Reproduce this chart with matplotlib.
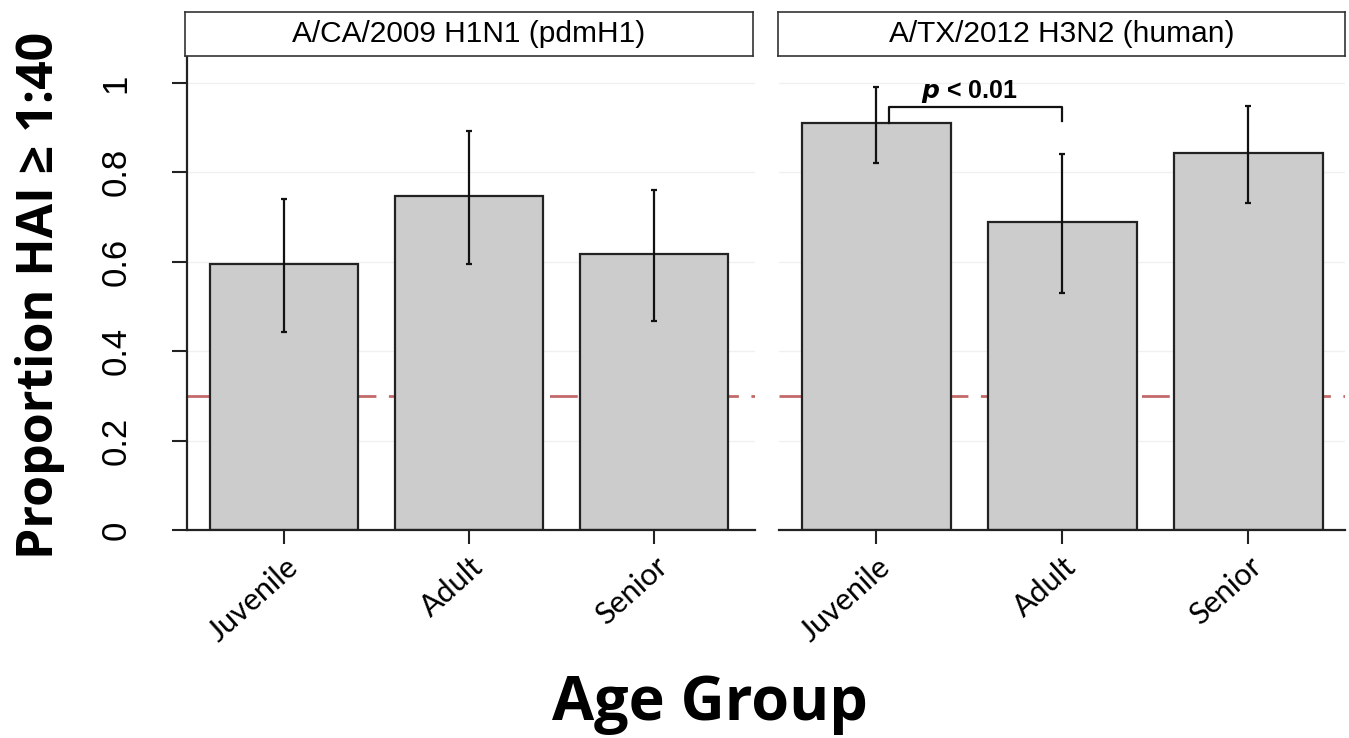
import matplotlib
matplotlib.use("Agg")
import matplotlib.pyplot as plt
import matplotlib.transforms as mtransforms
import numpy as np

# HAI >= 1:40 proportions by age group, two virus strains
groups = ['Juvenile', 'Adult', 'Senior']
panels = ['A/CA/2009 H1N1 (pdmH1)', 'A/TX/2012 H3N2 (human)']
prop_h1n1 = [0.595, 0.748, 0.618]
lo_h1n1 = [0.444, 0.595, 0.468]
hi_h1n1 = [0.740, 0.892, 0.760]
prop_h3n2 = [0.910, 0.690, 0.843]
lo_h3n2 = [0.820, 0.530, 0.732]
hi_h3n2 = [0.992, 0.840, 0.949]
threshold = 0.3
yticks = [0, 0.2, 0.4, 0.6, 0.8, 1]
ytick_labels = ['0', '0.2', '0.4', '0.6', '0.8', '1']

plt.rcParams['lines.scale_dashes'] = False

W, H = 1349, 738
fig = plt.figure(figsize=(W/100., H/100.), dpi=100, facecolor='w')

def px(x0, y0, x1, y1):
    # pixel box -> figure fraction [left, bottom, width, height]
    return [x0/W, 1 - y1/H, (x1 - x0)/W, (y1 - y0)/H]

ax_boxes = [px(187, 57, 755, 530), px(779, 57, 1345, 530)]
strip_boxes = [px(185, 12, 753, 56), px(778, 12, 1345, 56)]
data = [(prop_h1n1, lo_h1n1, hi_h1n1), (prop_h3n2, lo_h3n2, hi_h3n2)]
xlims = [(0.473, 3.546), (0.476, 3.52)]

x = np.arange(1, len(groups) + 1)
shift = mtransforms.ScaledTranslation(-12/72., 0, fig.dpi_scale_trans)
axes = []
for i in range(2):
    ax = fig.add_axes(ax_boxes[i])
    p, lo, hi = data[i]
    p = np.array(p); lo = np.array(lo); hi = np.array(hi)
    for yv in yticks[1:]:
        ax.axhline(yv, color='#f0f0f0', lw=1, zorder=0)
    ax.axhline(threshold, color='#b85050', lw=2, dashes=(20, 9), alpha=0.85, zorder=1)
    ax.bar(x, p, width=0.8, color='#cccccc', edgecolor='#222222', lw=1.6, zorder=2)
    ax.errorbar(x, p, yerr=[p - lo, hi - p], fmt='none', ecolor='#111111',
                elinewidth=1.6, capsize=2.5, capthick=1.6, zorder=3)
    ax.set_xlim(*xlims[i])
    ax.set_ylim(0, 1.058)
    ax.set_xticks(x)
    labs = ax.set_xticklabels(groups, rotation=42, ha='right', va='top',
                              rotation_mode='anchor', family='Lato', fontsize=22)
    for t in labs:
        t.set_transform(t.get_transform() + shift)
    ax.tick_params(axis='x', length=10, width=1.5, pad=6, color='#222222')
    for s in ['top', 'right']:
        ax.spines[s].set_visible(False)
    ax.spines['bottom'].set_linewidth(1.6)
    ax.spines['bottom'].set_color('#222222')
    if i == 0:
        ax.spines['left'].set_linewidth(1.6)
        ax.spines['left'].set_color('#222222')
        ax.set_yticks(yticks)
        ax.set_yticklabels(ytick_labels, rotation=90, va='center',
                           family='Liberation Sans', fontsize=25)
        ax.tick_params(axis='y', length=11, width=1.5, pad=28, color='#222222')
    else:
        ax.spines['left'].set_visible(False)
        ax.set_yticks([])
    axes.append(ax)

    sx = fig.add_axes(strip_boxes[i])
    sx.set_xticks([]); sx.set_yticks([])
    for s in sx.spines.values():
        s.set_color('#333333')
        s.set_linewidth(1.2)
    sx.text(0.5, 0.5, panels[i], ha='center', va='center',
            family='Liberation Sans', fontsize=21.5, transform=sx.transAxes)

# significance bracket, juvenile vs adult (H3N2)
ax = axes[1]
ax.plot([1.065, 1.065, 2.0, 2.0], [prop_h3n2[0], 0.946, 0.946, 0.915],
        color='#111111', lw=1.6, zorder=4)
ax.text(1.50, 0.950, r'$\boldsymbol{p}$ < 0.01', ha='center', va='bottom',
        fontsize=18, fontweight='bold', family='Liberation Sans')

fig.text(0.030, 0.600, u'Proportion HAI \u2265 1:40', rotation=90, ha='center', va='center',
         family=['Open Sans', 'DejaVu Sans'], fontweight='bold', fontsize=36)
fig.text(0.526, 0.024, 'Age Group', ha='center', va='baseline',
         family='Open Sans', fontweight='bold', fontsize=44)

plt.savefig('out.png', dpi=100, facecolor='w')
